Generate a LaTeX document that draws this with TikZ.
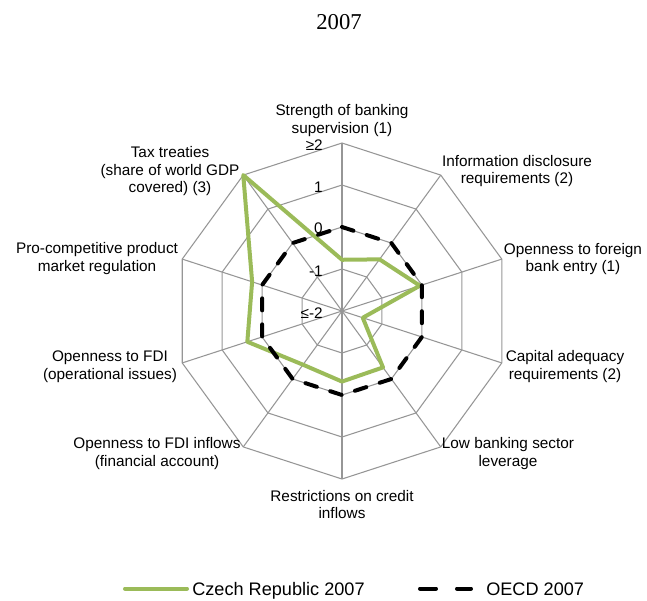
\documentclass[tikz,border=0pt]{standalone}
\usepackage{fontspec}
\setmainfont{Liberation Sans}
\newfontfamily\titlefont{Liberation Serif}
\definecolor{gridgray}{RGB}{150,150,150}
\definecolor{czgreen}{RGB}{155,187,89}
\tikzset{
  ringline/.style={draw=gridgray, line width=0.8pt},
  axislabel/.style={align=center, inner sep=0pt, font=\fontsize{11.5}{13.2}\selectfont},
  ticklabel/.style={anchor=east, inner sep=0pt, font=\fontsize{11.5}{13.2}\selectfont},
  legendtext/.style={anchor=base west, inner sep=0pt, font=\fontsize{13.6}{16}\selectfont},
  titletext/.style={anchor=base, inner sep=0pt, font=\titlefont\fontsize{17}{20}\selectfont},
  czech/.style={draw=czgreen, line width=3pt, line join=round},
  oecd/.style={draw=black, line width=3pt, line cap=round, dash pattern=on 9pt off 10.5pt},
}
\begin{document}
\begin{tikzpicture}[x=31.5pt, y=31.5pt]
  \useasboundingbox (-8.143,-6.881) rectangle (7.262,7.405);
  \node[titletext] (title) at (-0.07,6.714) {2007};
  % axis ends
  \path
    (0,0) coordinate (c)
    (90:4) coordinate (a0)
    (54:4) coordinate (a1)
    (18:4) coordinate (a2)
    (-18:4) coordinate (a3)
    (-54:4) coordinate (a4)
    (-90:4) coordinate (a5)
    (-126:4) coordinate (a6)
    (-162:4) coordinate (a7)
    (162:4) coordinate (a8)
    (126:4) coordinate (a9);
  \begin{scope}[ringline]
    \draw (c) to (a0);
    \draw (c) to (a1);
    \draw (c) to (a2);
    \draw (c) to (a3);
    \draw (c) to (a4);
    \draw (c) to (a5);
    \draw (c) to (a6);
    \draw (c) to (a7);
    \draw (c) to (a8);
    \draw (c) to (a9);
    \draw (90:1) -- (54:1) -- (18:1) -- (-18:1) -- (-54:1) -- (-90:1) -- (-126:1) -- (-162:1) -- (162:1) -- (126:1) -- cycle;
    \draw (90:2) -- (54:2) -- (18:2) -- (-18:2) -- (-54:2) -- (-90:2) -- (-126:2) -- (-162:2) -- (162:2) -- (126:2) -- cycle;
    \draw (90:3) -- (54:3) -- (18:3) -- (-18:3) -- (-54:3) -- (-90:3) -- (-126:3) -- (-162:3) -- (162:3) -- (126:3) -- cycle;
    \draw (a0) -- (a1) -- (a2) -- (a3) -- (a4) -- (a5) -- (a6) -- (a7) -- (a8) -- (a9) -- cycle;
  \end{scope}
  % scale
  \node[ticklabel] (t4) at (-0.452,3.952) {≥2};
  \node[ticklabel] (t3) at (-0.452,2.952) {1};
  \node[ticklabel] (t2) at (-0.452,1.976) {0};
  \node[ticklabel] (t1) at (-0.452,0.936) {-1};
  \node[ticklabel] (t0) at (-0.452,-0.048) {≤-2};
  % series
  \draw[czech] (90:1.22) -- (54:1.52) -- (18:1.95) -- (-18:0.52) -- (-54:1.66) -- (-90:1.68) -- (-126:1.58) -- (-162:2.37) -- (162:2.25) -- (126:4) -- cycle;
  \draw[oecd] (90:2) -- (54:2) -- (18:2) -- (-18:2) -- (-54:2) -- (-90:2) -- (-126:2) -- (-162:2) -- (162:2) -- (126:2) -- cycle;
  % axis labels
  \node[axislabel] (l0) at (0,4.54) {Strength of banking\\supervision (1)};
  \node[axislabel] (l1) at (4.167,3.335) {Information disclosure\\requirements (2)};
  \node[axislabel] (l2) at (5.5,1.24) {Openness to foreign\\bank entry (1)};
  \node[axislabel] (l3) at (5.31,-1.32) {Capital adequacy\\requirements (2)};
  \node[axislabel] (l4) at (3.952,-3.40) {Low banking sector\\leverage};
  \node[axislabel] (l5) at (0,-4.605) {Restrictions on credit\\inflows};
  \node[axislabel] (l6) at (-4.405,-3.40) {Openness to FDI inflows\\(financial account)};
  \node[axislabel] (l7) at (-5.524,-1.32) {Openness to FDI\\(operational issues)};
  \node[axislabel] (l8) at (-5.833,1.25) {Pro-competitive product\\market regulation};
  \node[axislabel] (l9) at (-4.095,3.33) {Tax treaties\\(share of world GDP\\covered) (3)};
  % legend
  \coordinate (g1) at (-5.167,-6.61);
  \coordinate (g2) at (-3.690,-6.61);
  \draw[czech, line cap=round] (g1) -- (g2);
  \node[legendtext] (czl) at (-3.571,-6.765) {Czech Republic 2007};
  \coordinate (k1) at (1.857,-6.61);
  \coordinate (k2) at (3.071,-6.61);
  \draw[oecd, dash pattern=on 12pt off 15.75pt] (k1) -- (k2);
  \node[legendtext] (oel) at (3.429,-6.765) {OECD 2007};
\end{tikzpicture}
\end{document}
